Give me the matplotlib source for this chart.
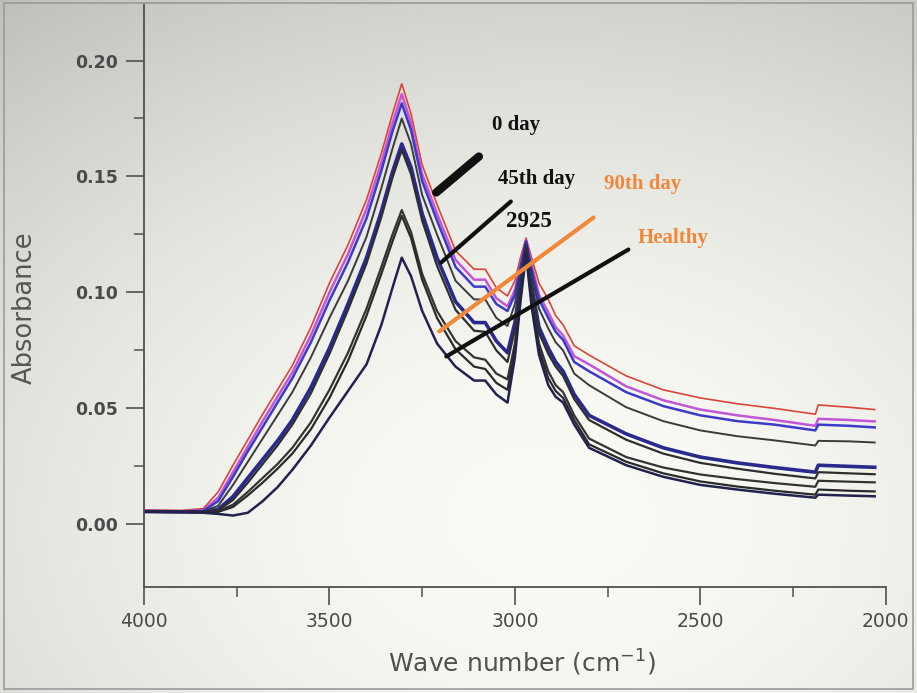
import numpy as np
import matplotlib
matplotlib.use("Agg")
import matplotlib.pyplot as plt
from matplotlib.patches import Rectangle

# wavenumber grid (cm-1) shared by all spectra
wavenumber = [4000, 3900, 3840, 3800, 3760, 3720, 3680, 3640, 3600, 3550,
              3500, 3450, 3400, 3360, 3330, 3305, 3280, 3250, 3210, 3160,
              3110, 3080, 3050, 3020, 3000, 2985, 2970, 2955, 2935, 2910,
              2890, 2870, 2840, 2800, 2700, 2600, 2500, 2400, 2300, 2190,
              2182, 2100, 2030]

# absorbance, top curve to bottom curve
abs_red = [0.0062, 0.0060, 0.0068, 0.0140, 0.0255, 0.0365, 0.0475, 0.0580, 0.0685, 0.0850,
           0.1040, 0.1205, 0.1400, 0.1600, 0.1770, 0.1900, 0.1770, 0.1550, 0.1380, 0.1180,
           0.1100, 0.1100, 0.1020, 0.0985, 0.1050, 0.1150, 0.1235, 0.1150, 0.1040, 0.0970,
           0.0900, 0.0860, 0.0770, 0.0730, 0.0640, 0.0580, 0.0545, 0.0520, 0.0500, 0.0475,
           0.0515, 0.0505, 0.0495]
abs_magenta = [0.0058, 0.0057, 0.0060, 0.0115, 0.0225, 0.0335, 0.0445, 0.0550, 0.0655, 0.0815,
               0.1000, 0.1165, 0.1360, 0.1560, 0.1730, 0.1855, 0.1730, 0.1510, 0.1340, 0.1140,
               0.1055, 0.1055, 0.0975, 0.0940, 0.1010, 0.1120, 0.1225, 0.1120, 0.0990, 0.0915,
               0.0850, 0.0815, 0.0725, 0.0690, 0.0595, 0.0535, 0.0495, 0.0470, 0.0450, 0.0425,
               0.0455, 0.0450, 0.0444]
abs_blue = [0.0057, 0.0056, 0.0058, 0.0100, 0.0205, 0.0315, 0.0420, 0.0525, 0.0630, 0.0785,
            0.0965, 0.1130, 0.1320, 0.1525, 0.1695, 0.1815, 0.1700, 0.1480, 0.1310, 0.1110,
            0.1025, 0.1025, 0.0950, 0.0920, 0.0990, 0.1110, 0.1220, 0.1100, 0.0970, 0.0890,
            0.0830, 0.0795, 0.0700, 0.0660, 0.0570, 0.0510, 0.0470, 0.0445, 0.0430, 0.0405,
            0.0430, 0.0425, 0.0418]
abs_grey = [0.0056, 0.0055, 0.0056, 0.0080, 0.0170, 0.0270, 0.0370, 0.0470, 0.0570, 0.0720,
            0.0890, 0.1050, 0.1240, 0.1450, 0.1620, 0.1750, 0.1640, 0.1420, 0.1250, 0.1050,
            0.0970, 0.0970, 0.0890, 0.0855, 0.0950, 0.1090, 0.1215, 0.1080, 0.0930, 0.0845,
            0.0785, 0.0750, 0.0650, 0.0600, 0.0505, 0.0445, 0.0405, 0.0380, 0.0362, 0.0340,
            0.0360, 0.0358, 0.0353]
abs_navy = [0.0055, 0.0054, 0.0054, 0.0065, 0.0120, 0.0200, 0.0280, 0.0360, 0.0450, 0.0590,
            0.0760, 0.0950, 0.1150, 0.1350, 0.1520, 0.1640, 0.1540, 0.1340, 0.1150, 0.0960,
            0.0870, 0.0870, 0.0790, 0.0740, 0.0870, 0.1040, 0.1205, 0.1030, 0.0850, 0.0760,
            0.0700, 0.0660, 0.0560, 0.0470, 0.0390, 0.0330, 0.0290, 0.0265, 0.0245, 0.0225,
            0.0255, 0.0250, 0.0246]
abs_black1 = [0.0055, 0.0054, 0.0053, 0.0060, 0.0105, 0.0180, 0.0260, 0.0340, 0.0430, 0.0565,
              0.0735, 0.0925, 0.1125, 0.1325, 0.1495, 0.1615, 0.1510, 0.1310, 0.1115, 0.0925,
              0.0835, 0.0830, 0.0750, 0.0700, 0.0840, 0.1020, 0.1195, 0.1010, 0.0825, 0.0735,
              0.0680, 0.0640, 0.0540, 0.0450, 0.0365, 0.0305, 0.0265, 0.0240, 0.0218, 0.0198,
              0.0225, 0.0220, 0.0216]
abs_black2 = [0.0055, 0.0054, 0.0053, 0.0056, 0.0085, 0.0140, 0.0200, 0.0260, 0.0330, 0.0440,
              0.0580, 0.0740, 0.0930, 0.1110, 0.1250, 0.1355, 0.1260, 0.1080, 0.0920, 0.0790,
              0.0720, 0.0710, 0.0650, 0.0625, 0.0780, 0.0990, 0.1185, 0.0980, 0.0780, 0.0660,
              0.0600, 0.0570, 0.0470, 0.0370, 0.0290, 0.0245, 0.0215, 0.0195, 0.0178, 0.0162,
              0.0188, 0.0184, 0.0181]
abs_black3 = [0.0055, 0.0054, 0.0053, 0.0054, 0.0075, 0.0125, 0.0180, 0.0240, 0.0305, 0.0410,
              0.0545, 0.0705, 0.0900, 0.1080, 0.1220, 0.1330, 0.1235, 0.1055, 0.0890, 0.0755,
              0.0680, 0.0670, 0.0610, 0.0580, 0.0750, 0.0975, 0.1175, 0.0960, 0.0755, 0.0630,
              0.0575, 0.0545, 0.0450, 0.0345, 0.0270, 0.0220, 0.0185, 0.0163, 0.0145, 0.0128,
              0.0150, 0.0145, 0.0142]
abs_lowest = [0.0055, 0.0052, 0.0050, 0.0045, 0.0038, 0.0050, 0.0100, 0.0160, 0.0235, 0.0340,
              0.0460, 0.0575, 0.0690, 0.0860, 0.1020, 0.1150, 0.1070, 0.0920, 0.0780, 0.0680,
              0.0620, 0.0620, 0.0560, 0.0525, 0.0720, 0.0960, 0.1165, 0.0940, 0.0730, 0.0600,
              0.0550, 0.0525, 0.0430, 0.0330, 0.0255, 0.0205, 0.0170, 0.0150, 0.0132, 0.0115,
              0.0128, 0.0124, 0.0121]

spectra = [abs_red, abs_magenta, abs_blue, abs_grey, abs_navy,
           abs_black1, abs_black2, abs_black3, abs_lowest]
colors = ['#d9453a', '#c455d6', '#3b3bc8', '#3a3a3a', '#2a2a8e',
          '#2e2e2e', '#333333', '#2a2a2a', '#22224e']
widths = [1.2, 1.8, 1.8, 1.4, 2.6, 1.6, 1.6, 1.6, 1.8]

fig = plt.figure(figsize=(9.17, 6.93), dpi=100)

# photo-like background: grey towards the top-left, bright centre
bg = fig.add_axes([0, 0, 1, 1], zorder=-10)
gx, gy = np.meshgrid(np.linspace(0, 1, 300), np.linspace(1, 0, 230))
d = np.sqrt(((gx - 0.6) / 0.9) ** 2 + ((gy - 0.25) / 0.85) ** 2)
shade = np.clip(1.0 - 0.2 * d ** 1.8, 0, 1)
rgb = np.dstack([shade * 0.985, shade * 0.985, shade * 0.962])
bg.imshow(rgb, extent=[0, 1, 0, 1], aspect='auto')
bg.axis('off')
fig.patches.append(Rectangle((0.004, 0.006), 0.992, 0.99, transform=fig.transFigure,
                             fill=False, edgecolor='#9a9a9a', linewidth=1.2))

ax = fig.add_axes([0.157, 0.153, 0.809, 0.840])
ax.patch.set_alpha(0)

for vals, c, lw in zip(spectra, colors, widths):
    ax.plot(wavenumber, vals, color=c, linewidth=lw, solid_joinstyle='round')

ax.set_xlim(4000, 2000)
ax.set_ylim(-0.027, 0.224)
ax.set_xticks([4000, 3500, 3000, 2500, 2000])
ax.set_xticks([3750, 3250, 2750, 2250], minor=True)
ax.set_yticks([0.00, 0.05, 0.10, 0.15, 0.20])
ax.set_yticks([0.025, 0.075, 0.125, 0.175], minor=True)
ax.set_yticklabels(['0.00', '0.05', '0.10', '0.15', '0.20'], fontweight='bold')

for side in ['top', 'right']:
    ax.spines[side].set_visible(False)
for side in ['left', 'bottom']:
    ax.spines[side].set_color('#505050')
    ax.spines[side].set_linewidth(1.3)

ax.tick_params(axis='both', which='major', length=13, width=1.2, color='#505050',
               labelcolor='#4a4a4a', labelsize=13.5, pad=5)
ax.tick_params(axis='both', which='minor', length=7, width=1.1, color='#505050')
ax.tick_params(axis='y', labelsize=12.5, pad=6)

ax.set_ylabel('Absorbance', fontsize=18.5, color='#555555')
ax.yaxis.set_label_coords(-0.143, 0.48)
ax.set_xlabel('Wave number (cm$^{-1}$)', fontsize=18, color='#505050')
ax.xaxis.set_label_coords(0.509, -0.105)

# hand-drawn style annotations
serif = ['Liberation Serif', 'DejaVu Serif']
ax.text(2997, 0.1724, '0 day', family=serif, fontweight='bold', fontsize=15,
        ha='center', va='center', color='#111111')
ax.plot([3212, 3097], [0.1431, 0.1586], color='#111111', linewidth=6, solid_capstyle='round')
ax.text(2941, 0.1487, '45th day', family=serif, fontweight='bold', fontsize=15,
        ha='center', va='center', color='#111111')
ax.plot([3199, 3011], [0.1129, 0.1392], color='#111111', linewidth=3, solid_capstyle='round')
ax.text(2962, 0.1306, '2925', family=serif, fontweight='bold', fontsize=16.5,
        ha='center', va='center', color='#111111')
ax.text(2656, 0.1466, '90th day', family=serif, fontweight='bold', fontsize=15,
        ha='center', va='center', color='#f0883a')
ax.plot([3204, 2788], [0.0832, 0.1323], color='#f0883a', linewidth=3, solid_capstyle='round')
ax.text(2573, 0.1233, 'Healthy', family=serif, fontweight='bold', fontsize=15,
        ha='center', va='center', color='#f0883a')
ax.plot([3185, 2694], [0.0724, 0.1185], color='#111111', linewidth=3, solid_capstyle='round')

fig.savefig('out.png', dpi=100)
